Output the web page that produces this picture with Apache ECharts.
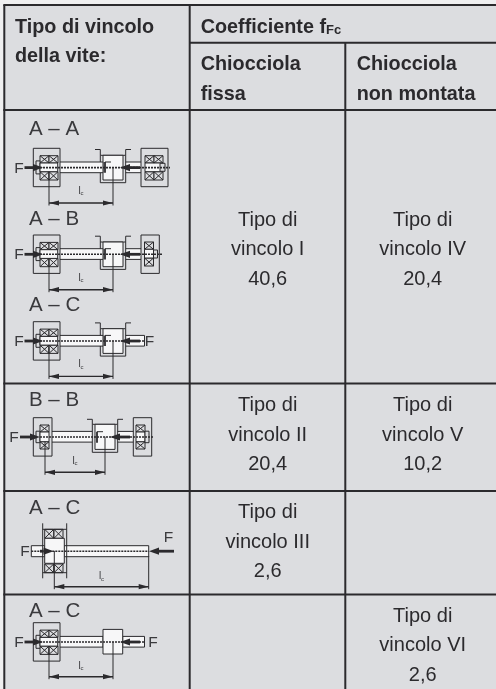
<!DOCTYPE html>
<html>
<head>
<meta charset="utf-8">
<style>html,body{margin:0;padding:0;background:#fff}#main{width:496px;height:689px}</style>
<script src="https://cdn.jsdelivr.net/npm/echarts@6/dist/echarts.min.js"></script>
</head>
<body>
<div id="main"></div>
<script>
// table text
const headerLeft = ['Tipo di vincolo', 'della vite:']
const headerTop = '{b|Coefficiente f}{s|Fc}'
const headerCols = [['Chiocciola', 'fissa'], ['Chiocciola', 'non montata']]
const typesFixed = ['Tipo di\nvincolo I', 'Tipo di\nvincolo II', 'Tipo di\nvincolo III', '']
const typesFree = ['Tipo di\nvincolo IV', 'Tipo di\nvincolo V', '', 'Tipo di\nvincolo VI']
const coefFixed = ['40,6', '20,4', '2,6', '']
const coefFree = ['20,4', '10,2', '', '2,6']
const rowCenters = [249.5, 435, 542, 645.5]
const diagramNames = ['A – A', 'A – B', 'A – C', 'B – B', 'A – C', 'A – C']
const diagramNameY = [129.5, 219, 305.5, 400, 508.5, 611.5]

// table rules: x0, y0, x1, y1
const tableRules = [
  [3.3, 5, 496, 5], [190, 42.7, 496, 42.7], [3.3, 110, 496, 110],
  [3.3, 383.5, 496, 383.5], [3.3, 491, 496, 491], [3.3, 594.5, 496, 594.5],
  [4.3, 5, 4.3, 689], [189.7, 5, 189.7, 689], [345.3, 43, 345.3, 689]
]

const rects = [] // x0, y0, x1, y1, white(0/1)
const lines = [] // x0, y0, x1, y1, width
const dashes = [] // x0, y0, x1, y1
const arrows = [] // tipX, y, tailX, headLength, shaftWidth
const letters = [] // x, y, text

function bearingPair(x, top, bottom) {
  // crossed race
  rects.push([x, top, x + 9, bottom, 0])
  lines.push([x, top, x + 9, bottom, 1], [x + 9, top, x, bottom, 1])
}
function leftEnd(t) {
  rects.push([33.3, t, 60, t + 38.4, 0])
  ;[40, 49].forEach(x => { bearingPair(x, t + 7.4, t + 14.7); bearingPair(x, t + 23.4, t + 31.7) })
  rects.push([36, t + 12.6, 40, t + 25.6, 0])
  rects.push([40, t + 14.7, 57.7, t + 23.4, 1])
}
function screw(t, x0, x1) {
  rects.push([x0, t + 13.7, x1, t + 24.4, 1])
}
function nutWithFlange(t) {
  rects.push([100.3, t + 7, 125.7, t + 34.4, 0])
  rects.push([103, t + 7, 123, t + 31.7, 1])
  lines.push([95, t + 1.2, 100.3, t + 1.2, 1], [100.3, t + 1.2, 100.3, t + 7, 1])
  lines.push([125.7, t + 1.2, 131, t + 1.2, 1], [125.7, t + 1.2, 125.7, t + 7, 1])
  lines.push([105, t + 13.7, 105, t + 24.4, 1.8], [105, t + 13.7, 111, t + 13.7, 1])
}
function dimension(x0, x1, yTop0, yTop1, y, labelY) {
  lines.push([x0, yTop0, x0, y + 2.5, 1], [x1, yTop1, x1, y + 2.5, 1], [x0, y, x1, y, 1.4])
  arrows.push([x0, y, x0 + 10, 10, 0], [x1, y, x1 - 10, 10, 0])
  letters.push([(x0 + x1) / 2, labelY, '{l|l}{c|c}'])
}
function typeA(t, dashEnd) {
  screw(t, 57.7, 103)
  leftEnd(t)
  dashes.push([40, t + 19.3, dashEnd, t + 19.3])
  dimension(49, 113, t + 24, t + 19, t + 54.7, t + 43)
  arrows.push([43, t + 19.3, 24.5, 10, 2.8], [120, t + 19.3, 140, 10, 2.8])
  letters.push([19, t + 20, 'F'])
}

// A-A
let t = 148.3
screw(t, 123, 145)
nutWithFlange(t); typeA(t, 170)
rects.push([141, t, 168, t + 38.4, 0])
;[145, 154].forEach(x => { bearingPair(x, t + 7.4, t + 14.7); bearingPair(x, t + 23.4, t + 31.7) })
rects.push([145, t + 14.7, 162, t + 23.4, 1], [160, t + 15, 165, t + 23, 0])

// A-B
t = 235
screw(t, 123, 145)
nutWithFlange(t); typeA(t, 162)
rects.push([141, t, 159.3, t + 38.4, 0])
bearingPair(144.5, t + 7, t + 14.3); bearingPair(144.5, t + 23, t + 31)
rects.push([144.5, t + 14.3, 153.5, t + 23, 1], [153.5, t + 15, 157.5, t + 23, 0])

// A-C with nut
t = 321.7
screw(t, 123, 144.5)
nutWithFlange(t); typeA(t, 144.5)
letters.push([149.5, t + 20, 'F'])

// B-B
t = 417.7
screw(t, 49, 95); screw(t, 115, 135)
rects.push([33.3, t, 52, t + 38.4, 0], [133.3, t, 151.7, t + 38.4, 0])
bearingPair(40, t + 7.3, t + 14.3); bearingPair(40, t + 24, t + 31.3)
bearingPair(136, t + 7.3, t + 14.3); bearingPair(136, t + 24, t + 31.3)
rects.push([36, t + 13.5, 40, t + 25, 0], [40, t + 14.3, 49, t + 24, 1])
rects.push([136, t + 14.3, 145, t + 24, 1], [145, t + 13.5, 149, t + 25, 0])
rects.push([92.3, t + 6.6, 117.7, t + 34.6, 0], [95, t + 6.6, 115, t + 31.7, 1])
lines.push([87, t + 1.6, 92.3, t + 1.6, 1], [92.3, t + 1.6, 92.3, t + 6.6, 1])
lines.push([117.7, t + 1.6, 123, t + 1.6, 1], [117.7, t + 1.6, 117.7, t + 6.6, 1])
lines.push([97, t + 14, 97, t + 25, 1.8], [97, t + 14, 103, t + 14, 1])
dashes.push([40, t + 19.3, 154, t + 19.3])
dimension(45, 105, t + 24, t + 19, 472.3, 461)
arrows.push([40, t + 19.3, 20, 10, 2.8], [110, t + 19.3, 130, 10, 2.8])
letters.push([14, t + 20, 'F'])

// A-C, single end
rects.push([31.3, 545.7, 44.7, 556.7, 1], [64, 545.7, 148.7, 556.7, 1])
lines.push([42.7, 523.3, 42.7, 578.3, 1], [66.7, 523.3, 66.7, 578.3, 1])
lines.push([42.7, 529.3, 66.7, 529.3, 1], [42.7, 572.7, 66.7, 572.7, 1])
;[44.7, 54].forEach(x => { bearingPair(x, 529.3, 538.3); bearingPair(x, 564, 572.7) })
rects.push([44.7, 538.3, 64.3, 563.3, 1])
dashes.push([31.3, 551.2, 148.7, 551.2])
dimension(54.3, 148.7, 551, 556, 586.7, 576.5)
arrows.push([53.5, 551.2, 40, 10, 2.8], [149, 551.2, 174, 10, 2.8])
letters.push([25, 551.5, 'F'], [168.5, 537.5, 'F'])

// A-C, plain nut
t = 622.7
screw(t, 57.7, 103); screw(t, 122.7, 144.5)
leftEnd(t)
rects.push([103, t + 6.7, 122.7, t + 31.3, 1])
dashes.push([40, t + 19.3, 144.5, t + 19.3])
dimension(49, 113, t + 24, t + 19, 676.7, 666)
arrows.push([43, t + 19.3, 24.5, 10, 2.8], [120, t + 19.3, 140, 10, 2.8])
letters.push([19, t + 20, 'F'], [153, t + 20, 'F'])

const ink = '#2b2a2d'
const panel = '#dcdde0'
const sans = '"Liberation Sans", Arial, sans-serif'

const chart = echarts.init(document.getElementById('main'), null, { renderer: 'canvas' })

function drawRule(params, api) {
  const a = api.coord([api.value(0), api.value(1)])
  const b = api.coord([api.value(2), api.value(3)])
  return { type: 'line', shape: { x1: a[0], y1: a[1], x2: b[0], y2: b[1] }, style: { stroke: ink, lineWidth: api.value(4) || 2 } }
}
function drawLabel(params, api, text, align, style) {
  const p = api.coord([api.value(0), api.value(1)])
  return { type: 'text', style: Object.assign({ x: p[0], y: p[1], text, align: align, verticalAlign: 'middle', fill: ink }, style) }
}
function textSeries(items, align, style, z) {
  return {
    type: 'custom', coordinateSystem: 'cartesian2d', silent: true, z: z || 10, clip: false,
    encode: { x: 0, y: 1 },
    data: items.map(d => [d[0], d[1]]),
    renderItem: (params, api) => drawLabel(params, api, items[params.dataIndex][2], align, style)
  }
}

const bodyItems = []
rowCenters.forEach((y, i) => {
  const pairs = [[267.7, typesFixed[i], coefFixed[i]], [422.7, typesFree[i], coefFree[i]]]
  pairs.forEach(p => {
    if (!p[1]) return
    const rows = p[1].split('\n').concat(p[2])
    rows.forEach((r, k) => bodyItems.push([p[0], y + (k - 1) * 29.5, r]))
  })
})

const boldItems = [
  [15, 27.5, headerLeft[0]], [15, 56.5, headerLeft[1]],
  [200.7, 65, headerCols[0][0]], [200.7, 94.5, headerCols[0][1]],
  [356.7, 65, headerCols[1][0]], [356.7, 94.5, headerCols[1][1]]
]

chart.setOption({
  animation: false,
  backgroundColor: '#efeff0',
  grid: { left: 0, right: 0, top: 0, bottom: 0 },
  xAxis: { type: 'value', min: 0, max: 496, show: false },
  yAxis: { type: 'value', min: 0, max: 689, inverse: true, show: false },
  series: [
    {
      // panel behind the table
      type: 'custom', silent: true, z: 1, clip: false, encode: { x: 0, y: 1 },
      data: [[4, 5, 496, 689]],
      renderItem: (params, api) => {
        const a = api.coord([api.value(0), api.value(1)])
        const b = api.coord([api.value(2), api.value(3)])
        return { type: 'rect', shape: { x: a[0], y: a[1], width: b[0] - a[0], height: b[1] - a[1] }, style: { fill: panel } }
      }
    },
    { type: 'custom', silent: true, z: 2, clip: false, encode: { x: 0, y: 1 }, data: tableRules, renderItem: drawRule },
    {
      type: 'custom', silent: true, z: 3, clip: false, encode: { x: 0, y: 1 }, data: rects,
      renderItem: (params, api) => {
        const a = api.coord([api.value(0), api.value(1)])
        const b = api.coord([api.value(2), api.value(3)])
        return {
          type: 'rect', shape: { x: a[0], y: a[1], width: b[0] - a[0], height: b[1] - a[1] },
          style: { fill: api.value(4) ? '#f7f7f8' : panel, stroke: ink, lineWidth: 1 }
        }
      }
    },
    { type: 'custom', silent: true, z: 4, clip: false, encode: { x: 0, y: 1 }, data: lines, renderItem: drawRule },
    {
      type: 'custom', silent: true, z: 5, clip: false, encode: { x: 0, y: 1 }, data: dashes,
      renderItem: (params, api) => {
        const a = api.coord([api.value(0), api.value(1)])
        const b = api.coord([api.value(2), api.value(3)])
        return { type: 'line', shape: { x1: a[0], y1: a[1], x2: b[0], y2: b[1] }, style: { stroke: ink, lineWidth: 1.6, lineDash: [2, 1] } }
      }
    },
    {
      type: 'custom', silent: true, z: 6, clip: false, encode: { x: 0, y: 1 }, data: arrows,
      renderItem: (params, api) => {
        const tip = api.coord([api.value(0), api.value(1)])
        const tail = api.coord([api.value(2), api.value(1)])
        const head = api.value(3)
        const shaft = api.value(4)
        const half = shaft ? 3.6 : 2.6
        const dir = tail[0] > tip[0] ? 1 : -1
        const children = [{
          type: 'polygon',
          shape: { points: [[tip[0], tip[1]], [tip[0] + dir * head, tip[1] - half], [tip[0] + dir * head, tip[1] + half]] },
          style: { fill: ink }
        }]
        if (shaft) {
          children.push({
            type: 'line', shape: { x1: tip[0] + dir * head, y1: tip[1], x2: tail[0], y2: tip[1] },
            style: { stroke: ink, lineWidth: shaft }
          })
        }
        return { type: 'group', children }
      }
    },
    textSeries(boldItems, 'left', { font: 'bold 19.8px ' + sans }),
    textSeries([[200.7, 27.5, headerTop]], 'left', {
      font: 'bold 19.8px ' + sans,
      rich: {
        b: { font: 'bold 19.8px ' + sans, fill: ink },
        s: { font: 'bold 13px ' + sans, fill: ink, padding: [6, 0, 0, 0] }
      }
    }),
    textSeries(bodyItems, 'center', { font: '20px ' + sans }),
    textSeries(diagramNames.map((n, i) => [29, diagramNameY[i], n]), 'left', { font: '20.5px ' + sans, fill: '#3a3a3d' }),
    textSeries(letters, 'center', {
      font: '15.5px ' + sans, fill: '#3a3a3d',
      rich: {
        l: { font: '10px ' + sans, fill: '#3a3a3d' },
        c: { font: '6px ' + sans, fill: '#3a3a3d', padding: [5, 0, 0, 0] }
      }
    })
  ]
})
</script>
</body>
</html>
